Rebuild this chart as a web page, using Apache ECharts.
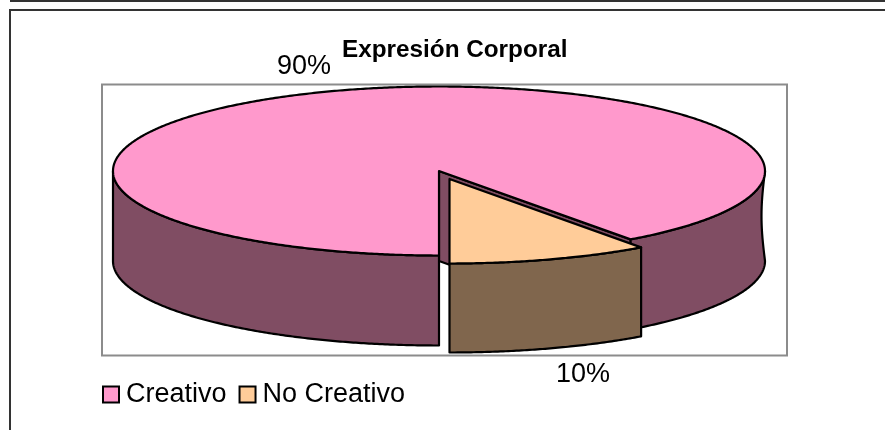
<!DOCTYPE html>
<html>
<head>
<meta charset="utf-8">
<style>
    html, body { margin: 0; background: #fff; }
    #chart { width: 885px; height: 430px; }
</style>
<script src="https://cdn.jsdelivr.net/npm/echarts@6/dist/echarts.min.js"></script>
</head>
<body>
<div id="chart"></div>
<script>
const categories = ["Creativo", "No Creativo"];
const values = [90, 10];
const topColors = ["#FF99CC", "#FFCC99"];
const sideColors = ["#804D63", "#80664D"];

const total = values.reduce((a, b) => a + b, 0);
const sweep = (values[1] / total) * Math.PI * 2;

// the disc, seen from above, the small slice is pulled out towards the viewer
const disc = { cx: 439, cy: 171, rx: 326, ry: 84.5, depth: 90 };
const pull = { dx: 10.5, dy: 8 };
const textFont = "27px 'Liberation Sans', Arial, sans-serif";

// angle 0 is the front of the disc, growing to the right
function rim(a, ox, oy) {
    return [
        disc.cx + ox + disc.rx * Math.sin(a),
        disc.cy + oy + disc.ry * Math.cos(a),
    ];
}

function arc(from, to, ox, oy) {
    const steps = Math.max(2, Math.ceil(Math.abs(to - from) * 120));
    const pts = [];
    for (let i = 0; i <= steps; i++) {
        pts.push(rim(from + ((to - from) * i) / steps, ox, oy));
    }
    return pts;
}

function face(points, fill) {
    return {
        type: "polygon",
        shape: { points: points },
        style: { fill: fill, stroke: "#000", lineWidth: 2.2, lineJoin: "round" },
    };
}

function renderBig() {
    const d = disc.depth;
    const half = Math.PI / 2;
    const apex = [disc.cx, disc.cy];
    const children = [];

    // inner wall of the notch
    const end = rim(sweep, 0, 0);
    children.push(
        face(
            [apex, end, [end[0], end[1] + d], [apex[0], apex[1] + d]],
            sideColors[0],
        ),
    );

    // outer wall, right part, its end edge bends a little in the original
    const rightEdge = [];
    for (let i = 0; i <= 20; i++) {
        const t = i / 20;
        const p = rim(half, 0, d * t);
        rightEdge.push([p[0] - 3.5 * Math.sin(Math.PI * t), p[1]]);
    }
    children.push(
        face(
            arc(sweep, half, 0, 0)
                .concat(rightEdge)
                .concat(arc(half, sweep, 0, d)),
            sideColors[0],
        ),
    );

    // outer wall, left part
    children.push(
        face(
            arc(half * 3, half * 4, 0, 0).concat(arc(half * 4, half * 3, 0, d)),
            sideColors[0],
        ),
    );

    // top
    children.push(
        face([apex].concat(arc(sweep, Math.PI * 2, 0, 0)), topColors[0]),
    );

    children.push({
        type: "text",
        style: {
            text: values[0] + "%",
            x: 304,
            y: 66.5,
            font: textFont,
            fill: "#000",
            align: "center",
            verticalAlign: "middle",
        },
    });
    return { type: "group", children: children };
}

function renderSmall() {
    const d = disc.depth - 1;
    const apex = [disc.cx + pull.dx, disc.cy + pull.dy];
    return {
        type: "group",
        children: [
            face(
                arc(0, sweep, pull.dx, pull.dy).concat(
                    arc(sweep, 0, pull.dx, pull.dy + d),
                ),
                sideColors[1],
            ),
            face([apex].concat(arc(0, sweep, pull.dx, pull.dy)), topColors[1]),
            {
                type: "text",
                style: {
                    text: values[1] + "%",
                    x: 583,
                    y: 375,
                    font: textFont,
                    fill: "#000",
                    align: "center",
                    verticalAlign: "middle",
                },
            },
        ],
    };
}

const chart = echarts.init(document.getElementById("chart"), null, {
    renderer: "canvas",
});

chart.setOption({
    animation: false,
    backgroundColor: "#fff",
    title: {
        text: "Expresión Corporal",
        left: 342,
        top: 38,
        padding: 0,
        textStyle: {
            fontFamily: "'Liberation Sans', Arial, sans-serif",
            fontSize: 24.3,
            fontWeight: "bold",
            color: "#000",
        },
    },
    legend: {
        data: categories,
        left: 102,
        top: 381,
        padding: 0,
        itemWidth: 16,
        itemHeight: 16,
        itemGap: 12,
        selectedMode: false,
        icon: "rect",
        itemStyle: { borderColor: "#000", borderWidth: 2 },
        textStyle: {
            fontFamily: "'Liberation Sans', Arial, sans-serif",
            fontSize: 27,
            color: "#000",
            padding: [4, 0, 0, 2],
        },
    },
    graphic: [
        {
            type: "rect",
            shape: { x: 102, y: 84.5, width: 685, height: 271 },
            style: { fill: "#fff", stroke: "#8c8c8c", lineWidth: 2 },
        },
        {
            type: "polyline",
            shape: { points: [[885, 10], [10, 10], [10, 430]] },
            style: { fill: null, stroke: "#333", lineWidth: 2 },
        },
        {
            type: "line",
            shape: { x1: 10, y1: 1, x2: 885, y2: 1 },
            style: { stroke: "#333", lineWidth: 2 },
        },
    ],
    series: [
        {
            type: "custom",
            name: categories[0],
            coordinateSystem: "none",
            data: [values[0]],
            itemStyle: { color: topColors[0] },
            renderItem: renderBig,
            silent: true,
        },
        {
            type: "custom",
            name: categories[1],
            coordinateSystem: "none",
            data: [values[1]],
            itemStyle: { color: topColors[1] },
            renderItem: renderSmall,
            silent: true,
        },
    ],
});
</script>
</body>
</html>
